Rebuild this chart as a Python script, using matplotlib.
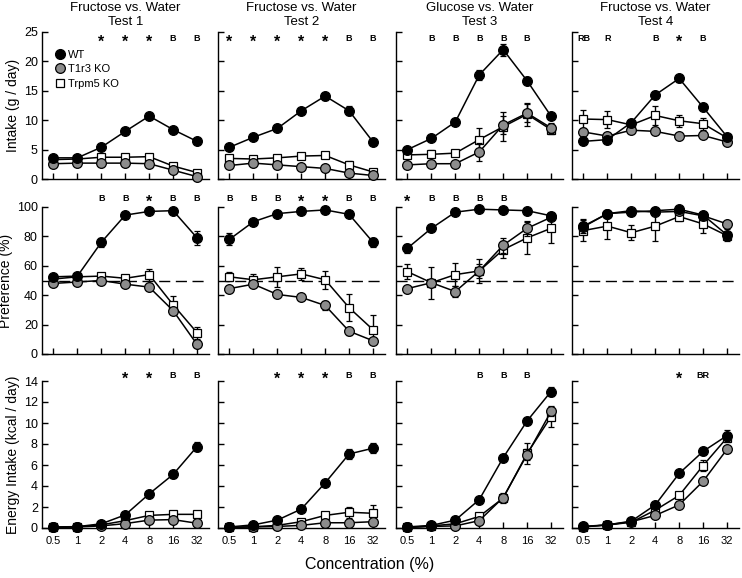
import numpy as np
import matplotlib
matplotlib.use('Agg')
import matplotlib.pyplot as plt
import matplotlib.transforms as mtransforms
from matplotlib.lines import Line2D

plt.rcParams['font.family'] = ['Liberation Sans', 'DejaVu Sans']

conc = [0.5, 1, 2, 4, 8, 16, 32]
conc_labels = ['0.5', '1', '2', '4', '8', '16', '32']
titles = ['Fructose vs. Water\nTest 1', 'Fructose vs. Water\nTest 2',
          'Glucose vs. Water\nTest 3', 'Fructose vs. Water\nTest 4']

# Intake (g / day), one list per test
intake_wt = [[3.6, 3.6, 5.4, 8.1, 10.7, 8.4, 6.4],
             [5.4, 7.1, 8.6, 11.6, 14.1, 11.6, 6.3],
             [5.0, 6.9, 9.7, 17.7, 22.0, 16.7, 10.7],
             [6.4, 6.7, 9.6, 14.3, 17.1, 12.2, 7.2]]
intake_wt_err = [[0.3, 0.3, 0.3, 0.4, 0.4, 0.4, 0.4],
                 [0.3, 0.3, 0.3, 0.4, 0.6, 0.8, 0.4],
                 [0.3, 0.3, 0.5, 0.9, 1.0, 0.6, 0.4],
                 [0.4, 0.3, 0.4, 0.6, 0.6, 0.5, 0.4]]
intake_t1r3 = [[2.6, 2.7, 2.7, 2.7, 2.6, 1.5, 0.4],
               [2.3, 2.7, 2.4, 2.1, 1.8, 1.0, 0.6],
               [2.4, 2.6, 2.6, 4.6, 9.2, 11.2, 8.7],
               [8.0, 7.3, 8.3, 8.1, 7.3, 7.4, 6.3]]
intake_t1r3_err = [[0.2, 0.2, 0.2, 0.2, 0.3, 0.3, 0.2],
                   [0.2, 0.2, 0.2, 0.2, 0.3, 0.3, 0.2],
                   [0.2, 0.2, 0.2, 1.5, 1.5, 1.5, 0.8],
                   [0.4, 0.3, 0.3, 0.3, 0.3, 0.3, 0.3]]
intake_trpm5 = [[3.3, 3.4, 3.7, 3.7, 3.8, 2.2, 1.1],
                [3.5, 3.4, 3.6, 3.9, 4.0, 2.4, 1.2],
                [4.1, 4.2, 4.4, 6.7, 8.9, 11.0, 8.4],
                [10.2, 10.1, 9.2, 10.8, 9.9, 9.4, 7.0]]
intake_trpm5_err = [[0.3, 0.3, 0.3, 0.3, 0.3, 0.3, 0.3],
                    [0.3, 0.3, 0.3, 0.3, 0.4, 0.6, 0.3],
                    [0.3, 0.7, 0.5, 2.0, 2.5, 2.0, 0.7],
                    [1.5, 1.5, 0.4, 1.6, 1.0, 1.0, 0.4]]

# Preference (%)
pref_wt = [[52.5, 53, 76, 94.5, 97, 97.5, 79],
           [78, 90, 95.5, 97, 98, 95, 76],
           [72, 85.5, 96.5, 98.5, 98, 97.5, 94],
           [87, 95.5, 96.5, 97.5, 98.5, 94.5, 81]]
pref_wt_err = [[1, 1, 3, 1.5, 1, 1, 5],
               [4, 2, 1, 1, 1, 2, 3],
               [3, 1, 1, 1, 1, 1, 1],
               [5, 1, 1, 1, 1, 1, 4]]
pref_t1r3 = [[48, 49, 50, 47.5, 45.5, 29.5, 6.5],
             [44.5, 47.5, 40.5, 38.5, 33, 15.5, 9],
             [44.5, 48.5, 42.5, 56.5, 74, 85.5, 93],
             [86.5, 95.5, 97.5, 96.5, 97, 94, 88.5]]
pref_t1r3_err = [[1, 1, 1, 2, 1, 2, 1],
                 [1.5, 1.5, 2, 2, 3, 2.5, 1],
                 [2, 1.5, 4, 5, 5, 5, 1],
                 [1, 1, 1, 1, 1, 1, 1]]
pref_trpm5 = [[51, 52.5, 53, 51.5, 54, 33.5, 14.5],
              [52.5, 50.5, 52.5, 54.5, 50.5, 31.5, 16.5],
              [56, 48.5, 54, 56.5, 71, 79, 85.5],
              [84, 87, 82.5, 87, 93.5, 88.5, 80.5]]
pref_trpm5_err = [[1, 1, 1, 1, 4, 6, 4],
                  [3, 4, 7, 4, 6, 9, 10],
                  [5, 11, 8, 8, 6, 11, 10],
                  [7, 9, 5, 10, 3, 6, 2]]

# Energy intake (kcal / day)
energy_wt = [[0.1, 0.13, 0.4, 1.25, 3.25, 5.1, 7.75],
             [0.1, 0.3, 0.75, 1.8, 4.3, 7.05, 7.6],
             [0.1, 0.25, 0.75, 2.7, 6.7, 10.2, 13.0],
             [0.15, 0.3, 0.65, 2.2, 5.2, 7.3, 8.8]]
energy_wt_err = [[0.02, 0.02, 0.05, 0.1, 0.2, 0.3, 0.4],
                 [0.02, 0.05, 0.05, 0.1, 0.2, 0.5, 0.5],
                 [0.02, 0.05, 0.05, 0.1, 0.2, 0.3, 0.4],
                 [0.02, 0.05, 0.05, 0.1, 0.2, 0.3, 0.5]]
energy_t1r3 = [[0.05, 0.1, 0.2, 0.42, 0.75, 0.8, 0.45],
               [0.05, 0.1, 0.15, 0.25, 0.5, 0.5, 0.6],
               [0.05, 0.15, 0.2, 0.7, 2.9, 7.0, 11.1],
               [0.1, 0.3, 0.6, 1.2, 2.2, 4.45, 7.5]]
energy_t1r3_err = [[0.02, 0.02, 0.03, 0.05, 0.1, 0.1, 0.1],
                   [0.02, 0.02, 0.03, 0.05, 0.1, 0.1, 0.1],
                   [0.02, 0.02, 0.03, 0.1, 0.3, 0.5, 0.4],
                   [0.02, 0.02, 0.05, 0.1, 0.1, 0.2, 0.3]]
energy_trpm5 = [[0.07, 0.12, 0.3, 0.7, 1.2, 1.3, 1.3],
                [0.07, 0.12, 0.25, 0.6, 1.2, 1.5, 1.4],
                [0.05, 0.2, 0.4, 1.1, 2.85, 7.1, 10.6],
                [0.12, 0.28, 0.55, 1.7, 3.1, 5.95, 8.6]]
energy_trpm5_err = [[0.02, 0.02, 0.05, 0.1, 0.15, 0.2, 0.3],
                    [0.02, 0.02, 0.05, 0.1, 0.2, 0.5, 0.8],
                    [0.02, 0.02, 0.05, 0.1, 0.5, 1.0, 1.0],
                    [0.02, 0.02, 0.05, 0.1, 0.2, 0.5, 0.4]]

# significance marks per panel: (concentration, label)
marks_intake = [[(2, '*'), (4, '*'), (8, '*'), (16, 'B'), (32, 'B')],
                [(0.5, '*'), (1, '*'), (2, '*'), (4, '*'), (8, '*'), (16, 'B'), (32, 'B')],
                [(1, 'B'), (2, 'B'), (4, 'B'), (8, 'B'), (16, 'B')],
                [(0.5, 'RB'), (1, 'R'), (4, 'B'), (8, '*'), (16, 'B')]]
marks_pref = [[(2, 'B'), (4, 'B'), (8, '*'), (16, 'B'), (32, 'B')],
              [(0.5, 'B'), (1, 'B'), (2, 'B'), (4, '*'), (8, '*'), (16, 'B'), (32, 'B')],
              [(0.5, '*'), (1, 'B'), (2, 'B'), (4, 'B'), (8, 'B')],
              []]
marks_energy = [[(4, '*'), (8, '*'), (16, 'B'), (32, 'B')],
                [(2, '*'), (4, '*'), (8, '*'), (16, 'B'), (32, 'B')],
                [(4, 'B'), (8, 'B'), (16, 'B')],
                [(8, '*'), (16, 'BR')]]

rows = [
    (intake_wt, intake_wt_err, intake_t1r3, intake_t1r3_err, intake_trpm5, intake_trpm5_err,
     marks_intake, 25, np.arange(0, 26, 5), 'Intake (g / day)', 0.955),
    (pref_wt, pref_wt_err, pref_t1r3, pref_t1r3_err, pref_trpm5, pref_trpm5_err,
     marks_pref, 100, np.arange(0, 101, 20), 'Preference (%)', 1.055),
    (energy_wt, energy_wt_err, energy_t1r3, energy_t1r3_err, energy_trpm5, energy_trpm5_err,
     marks_energy, 14, np.arange(0, 15, 2), 'Energy Intake (kcal / day)', 1.035),
]

GRAY = '#8c8c8c'

fig = plt.figure(figsize=(7.42, 5.78), dpi=100)

col_left = [42, 218, 396, 572]
row_top = [32, 207, 381]
ax_w = 167
ax_h = 147
W, H = 742, 578


def draw_series(ax, y, err, face, marker, ms, z):
    ax.errorbar(conc, y, yerr=err, color='black', lw=1.1, marker=marker, ms=ms,
                mfc=face, mec='black', mew=0.9, ecolor='black', elinewidth=1.0,
                capsize=2.5, capthick=1.0, zorder=z, clip_on=False)


for r, row in enumerate(rows):
    wt, wt_e, t1, t1_e, tr, tr_e, marks, ymax, yticks, ylabel, mark_y = row
    for c in range(4):
        ax = fig.add_axes([col_left[c] / W, 1 - (row_top[r] + ax_h) / H, ax_w / W, ax_h / H])
        ax.set_xscale('log', base=2)
        ax.set_xlim(0.5 * 2 ** -0.48, 32 * 2 ** 0.5)
        ax.set_ylim(0, ymax)

        if r == 1:
            ax.axhline(50, color='black', lw=1.0, ls=(0, (8, 4)), zorder=1)

        draw_series(ax, tr[c], tr_e[c], 'white', 's', 6, 3)
        draw_series(ax, t1[c], t1_e[c], GRAY, 'o', 7, 4)
        draw_series(ax, wt[c], wt_e[c], 'black', 'o', 7, 5)

        trans = mtransforms.blended_transform_factory(ax.transData, ax.transAxes)
        for xc, txt in marks[c]:
            if txt == '*':
                ax.text(xc, mark_y - 0.025, txt, transform=trans, ha='center', va='center',
                        fontsize=11.5, fontweight='bold', clip_on=False)
            else:
                ax.text(xc, mark_y, txt, transform=trans, ha='center', va='center',
                        fontsize=6.5, fontweight='bold', clip_on=False)

        ax.spines['top'].set_visible(False)
        ax.spines['right'].set_visible(False)
        ax.spines['left'].set_linewidth(1.0)
        ax.spines['bottom'].set_linewidth(1.0)
        ax.set_xticks(conc)
        ax.minorticks_off()
        ax.set_yticks(yticks)
        ax.tick_params(direction='in', length=4, width=1.0)
        ax.tick_params(axis='y', pad=3, labelsize=9)
        ax.tick_params(axis='x', pad=6, labelsize=8)

        if r == 2:
            ax.set_xticklabels(conc_labels)
        else:
            ax.set_xticklabels([])
        if c == 0:
            ax.set_ylabel(ylabel, fontsize=10, labelpad=3)
        else:
            ax.set_yticklabels([])
        if r == 0:
            ax.set_title(titles[c], fontsize=9.5, pad=5, linespacing=1.2)
        if r == 0 and c == 0:
            handles = [Line2D([], [], ls='none', marker='o', ms=7, mfc='black', mec='black'),
                       Line2D([], [], ls='none', marker='o', ms=7, mfc=GRAY, mec='black', mew=0.9),
                       Line2D([], [], ls='none', marker='s', ms=6, mfc='white', mec='black', mew=0.9)]
            ax.legend(handles, ['WT', 'T1r3 KO', 'Trpm5 KO'], loc='upper left',
                      bbox_to_anchor=(0.04, 0.91), frameon=False, fontsize=8,
                      handletextpad=0.1, handlelength=1.2, labelspacing=0.4,
                      borderaxespad=0.0)

fig.text(370 / W, 1 - 565 / H, 'Concentration (%)', ha='center', va='center', fontsize=11.5)

fig.savefig('out.png', dpi=100)
